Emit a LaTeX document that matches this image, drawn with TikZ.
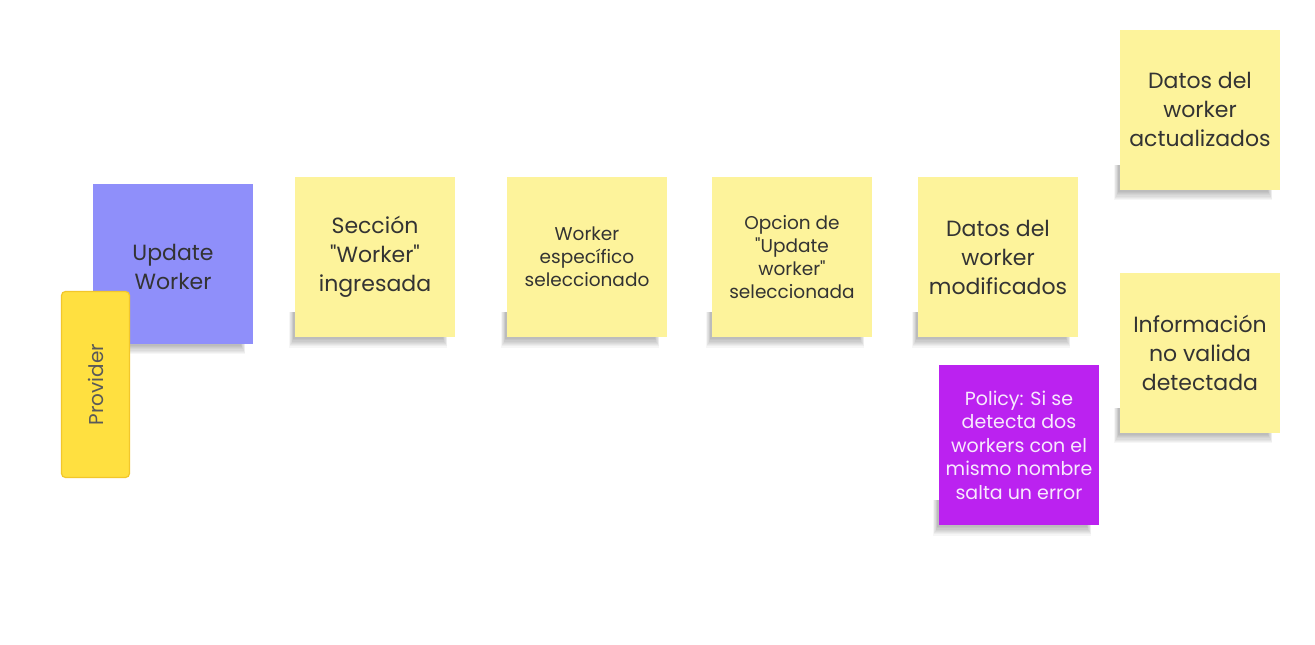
\documentclass[tikz,border=0pt]{standalone}
\usepackage{fontspec}
\setmainfont{Poppins}[Ligatures=TeXOff]
\definecolor{sticky}{HTML}{FDF39B}
\definecolor{evpurple}{HTML}{8F8FFA}
\definecolor{polpurple}{HTML}{BB22F0}
\definecolor{actor}{HTML}{FFE040}
\definecolor{actorline}{HTML}{F2C72A}
\definecolor{txt}{HTML}{333333}
\pgfdeclarelayer{bg}
\pgfsetlayers{bg,main}
\tikzset{
  note/.style={minimum width=160pt, minimum height=160pt, inner sep=0pt, align=center,
    text=txt, font=\fontsize{22}{29}\selectfont},
  yellownote/.style={note, fill=sticky},
  smallnote/.style={yellownote, font=\fontsize{18.5}{23}\selectfont},
  shadowlayer/.style={fill=black, opacity=0.035},
}
\newcommand\noteshade[1]{%
  \begin{pgfonlayer}{bg}
  \foreach \i in {0,...,7} {
    \fill[shadowlayer] ([xshift=-1.5pt-0.6*\i pt, yshift=25pt]#1.south west)
      rectangle ([xshift=-12pt+0.6*\i pt, yshift=-2pt-1.2*\i pt]#1.south east);
  }
  \end{pgfonlayer}}
\begin{document}
\begin{tikzpicture}[x=1pt,y=-1pt]
\useasboundingbox (0,0) rectangle (1315,645);
\begin{pgfonlayer}{bg}
\fill[white] (0,0) rectangle (1315,645);
\end{pgfonlayer}
\node[note, fill=evpurple, text=txt] (uw) at (173,263.5) {};
\node[align=center, text=txt, font=\fontsize{22}{29}\selectfont] (uwt) at (173,266.5) {Update\\Worker};
\node[draw=actorline, line width=1.2pt, fill=actor, rounded corners=4pt, minimum width=68pt, minimum height=186pt, inner sep=0pt] (prov) at (95.5,384.5) {};
\node[rotate=90, text=black!65, font=\fontsize{20}{24}\selectfont] (provt) at (prov.center) {Provider};
\node[yellownote] (sec) at (375,257) {Sección\\"Worker"\\ingresada};
\node[smallnote] (wes) at (587,257) {Worker\\específico\\seleccionado};
\node[smallnote] (opc) at (792,257) {Opcion de\\"Update\\worker"\\seleccionada};
\node[yellownote] (dmod) at (998,257) {Datos del\\worker\\modificados};
\node[yellownote] (dact) at (1200,109.5) {Datos del\\worker\\actualizados};
\node[yellownote] (inf) at (1200,352.5) {Información\\no valida\\detectada};
\node[note, fill=polpurple, text=white!90!polpurple, font=\fontsize{19}{23.5}\selectfont] (pol) at (1019,445) {Policy: Si se\\detecta dos\\workers con el\\mismo nombre\\salta un error};
\noteshade{uw}
\noteshade{sec}
\noteshade{wes}
\noteshade{opc}
\noteshade{dmod}
\noteshade{dact}
\noteshade{inf}
\noteshade{pol}
\end{tikzpicture}
\end{document}
